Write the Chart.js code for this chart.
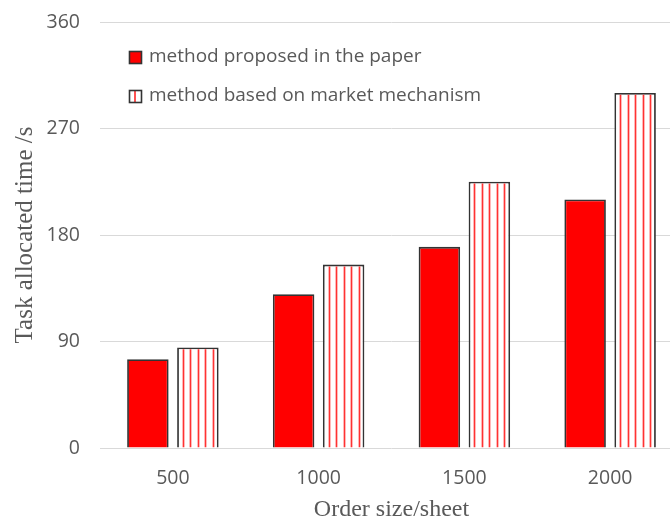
<!DOCTYPE html>
<html>
<head>
<meta charset="utf-8">
<script src="https://cdn.jsdelivr.net/npm/chart.js@4/dist/chart.umd.min.js"></script>
<style>
  html, body { margin: 0; padding: 0; background: #fff; overflow: hidden; width: 670px; height: 522px; }
  canvas { display: block; }
</style>
</head>
<body>
<canvas id="c" width="690" height="522"></canvas>
<script>
// Order sizes (sheets) on the category axis
const orderSizes = ['500', '1000', '1500', '2000'];
// Task allocation time in seconds for each method
const proposedTimes = [75, 130, 170, 210];
const marketTimes = [85, 155, 225, 300];
// Value axis ticks
const yTickValues = [0, 90, 180, 270, 360];
const seriesNames = ['method proposed in the paper', 'method based on market mechanism'];
const xTitle = 'Order size/sheet';
const yTitle = 'Task allocated time /s';

const RED = '#ff0000';
const EDGE = '#333333';
const TEXT = '#595959';
const GRID = '#d9d9d9';
const STRIPE = 'rgba(255,0,0,0.8)';

// Vertical red hatching inside the bars of the striped series
const stripePlugin = {
  id: 'stripes',
  afterDatasetsDraw(chart) {
    const ctx = chart.ctx;
    const meta = chart.getDatasetMeta(1);
    meta.data.forEach(bar => {
      const p = bar.getProps(['x', 'y', 'base', 'width'], true);
      const left = p.x - p.width / 2;
      const step = p.width / 5.5;
      ctx.save();
      ctx.beginPath();
      ctx.rect(left + 1.8, p.y + 1.8, p.width - 3.6, p.base - p.y - 1.8);
      ctx.clip();
      ctx.strokeStyle = STRIPE;
      ctx.lineWidth = 1.7;
      for (let k = -2; k <= 2; k++) {
        const sx = Math.round(p.x + k * step) + 0.5;
        ctx.beginPath();
        ctx.moveTo(sx, p.y);
        ctx.lineTo(sx, p.base);
        ctx.stroke();
      }
      ctx.restore();
    });
  }
};

// Legend drawn inside the plot, upper-left
const innerLegend = {
  id: 'innerLegend',
  afterDraw(chart) {
    const ctx = chart.ctx;
    const x0 = chart.chartArea.left + 29;
    const rows = [57, 96];
    ctx.save();
    ctx.font = '19px "Open Sans", sans-serif';
    ctx.textBaseline = 'middle';
    chart.data.datasets.forEach((ds, i) => {
      const cy = rows[i];
      const bx = x0, by = cy - 6, bs = 12;
      ctx.fillStyle = i === 0 ? RED : '#ffffff';
      ctx.fillRect(bx, by, bs, bs);
      if (i === 1) {
        ctx.strokeStyle = STRIPE;
        ctx.lineWidth = 1.7;
        ctx.beginPath();
        ctx.moveTo(bx + bs / 2, by);
        ctx.lineTo(bx + bs / 2, by + bs);
        ctx.stroke();
      }
      ctx.strokeStyle = EDGE;
      ctx.lineWidth = 1.6;
      ctx.strokeRect(bx + 0.5, by + 0.5, bs, bs);
      ctx.fillStyle = TEXT;
      ctx.fillText(ds.label, bx + 20, cy);
    });
    ctx.restore();
  }
};

new Chart(document.getElementById('c'), {
  type: 'bar',
  data: {
    labels: orderSizes,
    datasets: [
      {
        label: seriesNames[0],
        data: proposedTimes,
        backgroundColor: RED,
        borderColor: EDGE,
        borderWidth: 1.8
      },
      {
        label: seriesNames[1],
        data: marketTimes,
        backgroundColor: '#ffffff',
        borderColor: EDGE,
        borderWidth: 1.8
      }
    ]
  },
  options: {
    responsive: false,
    animation: false,
    events: [],
    layout: { padding: { top: 22, right: 7, bottom: 0, left: 0 } },
    datasets: {
      bar: { categoryPercentage: 0.686, barPercentage: 0.83 }
    },
    plugins: {
      legend: { display: false },
      tooltip: { enabled: false }
    },
    scales: {
      x: {
        grid: { display: false, drawTicks: false },
        border: { display: false },
        ticks: { color: TEXT, font: { family: 'Open Sans', size: 19.5 }, padding: 19 },
        title: {
          display: true, text: xTitle, color: TEXT,
          font: { family: 'Liberation Serif', size: 24, lineHeight: 1 },
          padding: { top: 0, bottom: 0 }
        },
        afterFit(scale) { scale.height = 74; scale.paddingLeft = 0; scale.paddingRight = 0; }
      },
      y: {
        min: 0, max: 360,
        afterBuildTicks(scale) { scale.ticks = yTickValues.map(v => ({ value: v })); },
        grid: { color: GRID, lineWidth: 1, drawTicks: false },
        border: { display: false },
        ticks: { color: TEXT, font: { family: 'Open Sans', size: 19.5 }, padding: 20 },
        title: {
          display: true, text: yTitle, color: TEXT,
          font: { family: 'Liberation Serif', size: 25, lineHeight: 1 },
          padding: { top: 13, bottom: 0 }
        },
        afterFit(scale) { scale.width = 100; scale.paddingTop = 0; scale.paddingBottom = 0; }
      }
    }
  },
  plugins: [stripePlugin, innerLegend]
});
</script>
</body>
</html>
